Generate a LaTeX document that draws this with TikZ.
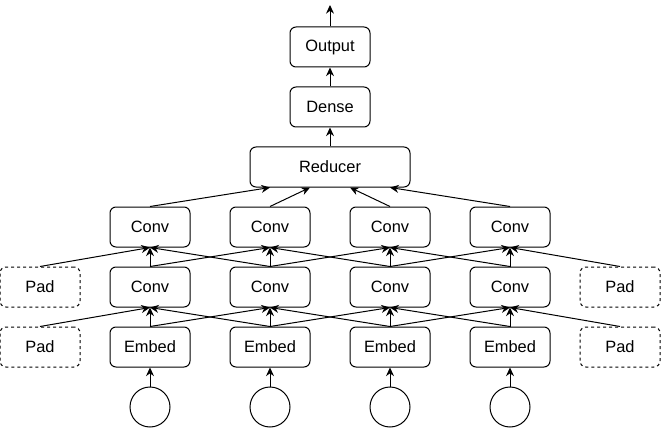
\documentclass[tikz,border=0pt]{standalone}
\usepackage{fontspec}
\setmainfont{Liberation Sans}
\usetikzlibrary{arrows.meta}
\begin{document}
\begin{tikzpicture}[x=0.75pt,y=-0.75pt,
  box/.style={draw,rounded corners=4.5pt,minimum width=60pt,minimum height=30pt,inner sep=0pt,line width=0.75pt,font=\fontsize{12.3}{14}\selectfont},
  padbox/.style={box,dashed,dash pattern=on 2.25pt off 2.25pt},
  wide/.style={box,minimum width=120pt},
  inp/.style={draw,circle,minimum size=30pt,inner sep=0pt,line width=0.75pt},
  arr/.style={-{Stealth[length=6.5pt,width=6pt]},line width=0.75pt}]
\useasboundingbox (0,0) rectangle (661,428);
% circles and embeds
\foreach \i/\x in {1/150,2/270,3/390,4/510}{
  \node[inp] (c\i) at (\x,407) {};
  \node[box] (e\i) at (\x,347) {Embed};
  \node[box] (a\i) at (\x,287) {Conv};
  \node[box] (b\i) at (\x,227) {Conv};
}
\node[padbox] (pe0) at (40,347) {Pad};
\node[padbox] (pe5) at (620,347) {Pad};
\node[padbox] (pa0) at (40,287) {Pad};
\node[padbox] (pa5) at (620,287) {Pad};
\node[wide] (red) at (330,167) {Reducer};
\node[box] (dense) at (330,107) {Dense};
\node[box] (out) at (330,47) {Output};
\coordinate (top) at (330,5);
% input arrows
\foreach \i in {1,2,3,4}{
  \draw[arr] (c\i.north) -- (e\i.south);
  \draw[arr] (e\i.north) -- (a\i.south);
  \draw[arr] (a\i.north) -- (b\i.south);
}
% neighbor connections layer 1
\draw[arr] (pe0.north) -- (a1.south);
\draw[arr] (e2.north) -- (a1.south);
\draw[arr] (e1.north) -- (a2.south);
\draw[arr] (e3.north) -- (a2.south);
\draw[arr] (e2.north) -- (a3.south);
\draw[arr] (e4.north) -- (a3.south);
\draw[arr] (e3.north) -- (a4.south);
\draw[arr] (pe5.north) -- (a4.south);
% neighbor connections layer 2
\draw[arr] (pa0.north) -- (b1.south);
\draw[arr] (a2.north) -- (b1.south);
\draw[arr] (a1.north) -- (b2.south);
\draw[arr] (a3.north) -- (b2.south);
\draw[arr] (a2.north) -- (b3.south);
\draw[arr] (a4.north) -- (b3.south);
\draw[arr] (a3.north) -- (b4.south);
\draw[arr] (pa5.north) -- (b4.south);
% to reducer
\draw[arr] (b1.north) -- ([xshift=-45pt]red.south);
\draw[arr] (b2.north) -- ([xshift=-15pt]red.south);
\draw[arr] (b3.north) -- ([xshift=15pt]red.south);
\draw[arr] (b4.north) -- ([xshift=45pt]red.south);
\draw[arr] (red.north) -- (dense.south);
\draw[arr] (dense.north) -- (out.south);
\draw[arr] (out.north) -- (top);
\end{tikzpicture}
\end{document}
